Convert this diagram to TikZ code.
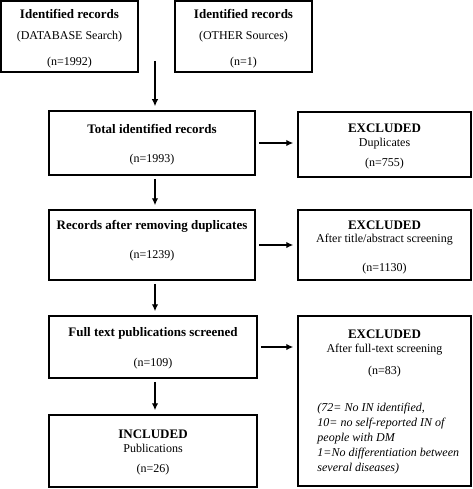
\documentclass[tikz,border=0pt]{standalone}
\usepackage{fontspec}
\setmainfont{Liberation Serif}
\usetikzlibrary{arrows.meta, positioning}

\tikzset{
  box/.style = {draw, line width=1.5pt, inner sep=0pt},
  txt/.style = {align=center, inner sep=0pt, anchor=north, font=\fontsize{12}{14}\selectfont},
  note/.style = {align=left, inner sep=0pt, anchor=north west, font=\fontsize{12}{15}\selectfont\itshape},
  flow/.style = {-{Latex[length=7pt,width=6.5pt]}, line width=1.5pt, shorten <=3pt, shorten >=4pt},
}
\newcommand{\hd}[1]{{\fontsize{13}{14}\selectfont\bfseries #1}}

\begin{document}
\begin{tikzpicture}[x=1pt, y=-1pt]
  \useasboundingbox (0,0) rectangle (472,489);

  % boxes
  \node[box, minimum width=137pt, minimum height=71pt] (db) at (69.5,36.5) {};
  \node[box, minimum width=137pt, minimum height=71pt] (other) at (243.5,36.5) {};
  \node[box, minimum width=206pt, minimum height=64pt] (total) at (152,143) {};
  \node[box, minimum width=173pt, minimum height=65pt] (dup) at (384.5,144.5) {};
  \node[box, minimum width=206pt, minimum height=70pt] (removed) at (152,245) {};
  \node[box, minimum width=173pt, minimum height=70pt] (title) at (384.5,245) {};
  \node[box, minimum width=208pt, minimum height=62pt] (full) at (153,347) {};
  \node[box, minimum width=173pt, minimum height=170pt] (fullx) at (384.5,401) {};
  \node[box, minimum width=208pt, minimum height=72pt] (incl) at (153,451) {};

  % texts
  \node[txt] (db-t) at ([yshift=-9pt]db.north) {\hd{Identified records}\\[7pt] (DATABASE Search)\\[12pt] (n=1992)};
  \node[txt] (other-t) at ([yshift=-9pt]other.north) {\hd{Identified records}\\[7pt] (OTHER Sources)\\[12pt] (n=1)};
  \node[txt] (total-t) at ([yshift=-14pt]total.north) {\hd{Total identified records}\\[15pt] (n=1993)};
  \node[txt] (dup-t) at ([yshift=-12pt]dup.north) {\hd{EXCLUDED}\\ Duplicates\\[6pt] (n=755)};
  \node[txt] (removed-t) at ([yshift=-11pt]removed.north) {\hd{Records after removing duplicates}\\[15pt] (n=1239)};
  \node[txt] (title-t) at ([yshift=-11pt]title.north) {\hd{EXCLUDED}\\[-1pt] After title/abstract screening\\[15pt] (n=1130)};
  \node[txt] (full-t) at ([yshift=-12pt]full.north) {\hd{Full text publications screened}\\[16pt] (n=109)};
  \node[txt] (fullx-t) at ([yshift=-14pt]fullx.north) {\hd{EXCLUDED}\\ After full-text screening\\[8pt] (n=83)};
  \node[note] (fullx-n) at ([xshift=20pt, yshift=-88pt]fullx.north west) {(72= No IN identified,\\ 10= no self-reported IN of\\ people with DM\\ 1=No differentiation between\\ several diseases)};
  \node[txt] (incl-t) at ([yshift=-15pt]incl.north) {\hd{INCLUDED}\\ Publications\\[6pt] (n=26)};

  % connectors
  \coordinate (merge) at (155,61);
  \draw[flow, shorten <=0pt] (merge) -- (merge |- total.north);
  \draw[flow] (total.south -| merge) -- (removed.north -| merge);
  \draw[flow] (removed.south -| merge) -- (full.north -| merge);
  \draw[flow] (full.south -| merge) -- (incl.north -| merge);
  \draw[flow] (total.east) -- (total.east -| dup.west);
  \draw[flow] (removed.east) -- (removed.east -| title.west);
  \draw[flow] (full.east) -- (full.east -| fullx.west);
\end{tikzpicture}
\end{document}
